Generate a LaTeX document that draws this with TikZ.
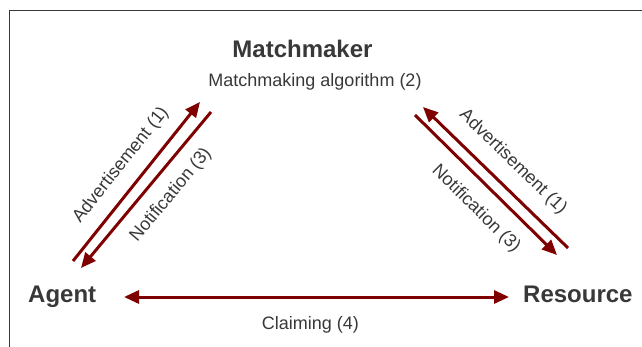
\documentclass[tikz,border=0pt]{standalone}
\usepackage{fontspec}
\setmainfont{Liberation Sans}
\usetikzlibrary{arrows.meta}
\definecolor{txt}{HTML}{383838}
\definecolor{arr}{HTML}{7F0000}
\begin{document}
\begin{tikzpicture}[x=1pt,y=-1pt,
  big/.style={font=\fontsize{24}{28}\selectfont\bfseries, text=txt, inner sep=0pt},
  small/.style={font=\fontsize{18}{21}\selectfont, text=txt, inner sep=0pt},
  link/.style={draw=arr, line width=3pt, -{Triangle[length=15pt,width=13pt]}},
  frame/.style={draw=txt, line width=1pt}]
\useasboundingbox (0,0) rectangle (642,347);
\draw[frame] (9,347) -- (9,10.5) -- (642,10.5);

\node[big, anchor=base] (mm) at (302.5,58) {Matchmaker};
\node[small, anchor=base] (alg) at (315,86.5) {Matchmaking algorithm (2)};
\node[big, anchor=base west] (ag) at (28,302) {Agent};
\node[big, anchor=base west] (res) at (523,302) {Resource};
\node[small, anchor=base] (cl) at (310.5,329) {Claiming (4)};

% left pair
\coordinate (la1) at (73,261);
\coordinate (la2) at (200,102);
\coordinate (ln1) at (211,112);
\coordinate (ln2) at (81,268);
\draw[link] (la1) -- (la2);
\draw[link] (ln1) -- (ln2);
\node[small, rotate=51.4] (lat) at (121,165) {Advertisement (1)};
\node[small, rotate=50.2] (lnt) at (171,195) {Notification (3)};

% right pair
\coordinate (ra1) at (568,248);
\coordinate (ra2) at (423,107);
\coordinate (rn1) at (415,115);
\coordinate (rn2) at (557,255);
\draw[link] (ra1) -- (ra2);
\draw[link] (rn1) -- (rn2);
\node[small, rotate=-44.2] (rat) at (513,162) {Advertisement (1)};
\node[small, rotate=-44.6] (rnt) at (476,209) {Notification (3)};

% claiming
\coordinate (c1) at (124,297);
\coordinate (c2) at (509,297);
\draw[link, {Triangle[length=15pt,width=13pt]}-{Triangle[length=15pt,width=13pt]}] (c1) -- (c2);
\end{tikzpicture}
\end{document}
